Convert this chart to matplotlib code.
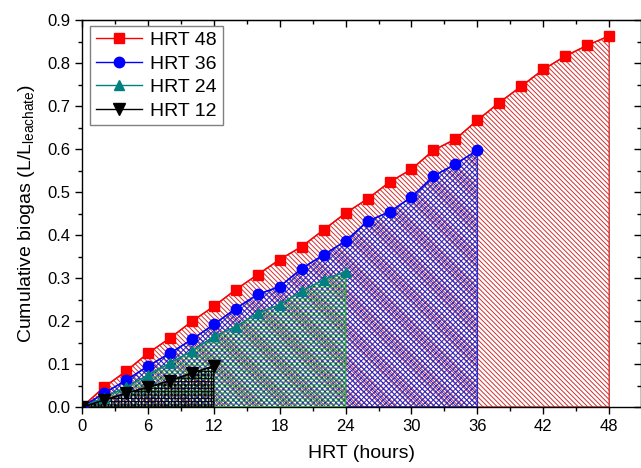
import matplotlib
matplotlib.use("Agg")
import matplotlib.pyplot as plt

plt.rcParams['font.family'] = ['Liberation Sans', 'DejaVu Sans']
plt.rcParams['hatch.linewidth'] = 0.7

# hours
t48 = [0, 2, 4, 6, 8, 10, 12, 14, 16, 18, 20, 22, 24, 26, 28, 30, 32, 34, 36, 38, 40, 42, 44, 46, 48]
t36 = t48[:19]
t24 = t48[:13]
t12 = t48[:7]

# cumulative biogas (L/L leachate)
hrt48 = [0, 0.046, 0.083, 0.125, 0.160, 0.199, 0.234, 0.273, 0.308, 0.343, 0.373, 0.412, 0.451,
         0.484, 0.523, 0.553, 0.597, 0.623, 0.667, 0.708, 0.746, 0.785, 0.816, 0.841, 0.863]
hrt36 = [0, 0.032, 0.062, 0.095, 0.125, 0.157, 0.192, 0.229, 0.262, 0.280, 0.322, 0.354, 0.386,
         0.432, 0.454, 0.488, 0.537, 0.565, 0.597]
hrt24 = [0, 0.022, 0.046, 0.074, 0.102, 0.130, 0.164, 0.187, 0.218, 0.238, 0.269, 0.296, 0.315]
hrt12 = [0, 0.016, 0.032, 0.046, 0.061, 0.079, 0.095]

xticks = [0, 6, 12, 18, 24, 30, 36, 42, 48]

fig = plt.figure(figsize=(6.41, 4.68), dpi=100)
ax = fig.add_axes([82 / 641, 61 / 468, 558.5 / 641, 387 / 468])

# hatched areas, drawn from the largest to the smallest
ax.fill_between(t48, hrt48, 0, facecolor='none', edgecolor='#d03030', hatch='\\' * 7, linewidth=1.0, zorder=1)
ax.fill_between(t36, hrt36, 0, facecolor='none', edgecolor='#2a2ac8', hatch='x' * 6, linewidth=1.0, zorder=2)
ax.fill_between(t24, hrt24, 0, facecolor='none', edgecolor='#30b040', hatch='-' * 6, linewidth=1.0, zorder=3)
ax.fill_between(t12, hrt12, 0, facecolor='none', edgecolor='black', hatch='+' * 5, linewidth=1.0, zorder=4)

ax.plot(t48, hrt48, '-', color='red', marker='s', markersize=6.5, lw=1, label='HRT 48', zorder=5)
ax.plot(t36, hrt36, '-', color='blue', marker='o', markersize=7.5, lw=1, label='HRT 36', zorder=6)
ax.plot(t24, hrt24, '-', color='#008080', marker='^', markersize=7.5, lw=1, label='HRT 24', zorder=7)
ax.plot(t12, hrt12, '-', color='black', marker='v', markersize=9, lw=1, label='HRT 12', zorder=8)

ax.set_xlim(0, 50.85)
ax.set_ylim(0, 0.9)
ax.set_xticks(xticks)
ax.set_xticks([3 * i for i in range(17)], minor=True)
ax.set_yticks([i / 10 for i in range(10)])
ax.set_yticks([i / 20 for i in range(19)], minor=True)
ax.yaxis.set_major_formatter(matplotlib.ticker.FormatStrFormatter('%.1f'))
ax.tick_params(which='major', direction='out', length=5, width=1, labelsize=12)
ax.tick_params(which='minor', direction='out', length=3, width=1)

# mirrored ticks pointing inwards on top and right
top = ax.secondary_xaxis('top')
top.set_xticks(xticks)
top.set_xticks([3 * i for i in range(17)], minor=True)
top.tick_params(which='major', direction='in', length=5, width=1, labeltop=False)
top.tick_params(which='minor', direction='in', length=3, width=1)
right = ax.secondary_yaxis('right')
right.set_yticks([i / 10 for i in range(10)])
right.set_yticks([i / 20 for i in range(19)], minor=True)
right.tick_params(which='major', direction='in', length=5, width=1, labelright=False)
right.tick_params(which='minor', direction='in', length=3, width=1)

for s in ax.spines.values():
    s.set_linewidth(1)

ax.set_xlabel('HRT (hours)', fontsize=14, labelpad=8)
ax.set_ylabel(r'Cumulative biogas (L/L$_{\mathregular{leachate}}$)', fontsize=14, labelpad=7)

leg = ax.legend(loc='upper left', bbox_to_anchor=(0.014, 0.985), fontsize=14, fancybox=False,
                framealpha=1, edgecolor='#808080', handlelength=2.4, handletextpad=0.4,
                borderpad=0.3, labelspacing=0.3, borderaxespad=0)
leg.get_frame().set_linewidth(1)

fig.savefig('out.png', dpi=100)
